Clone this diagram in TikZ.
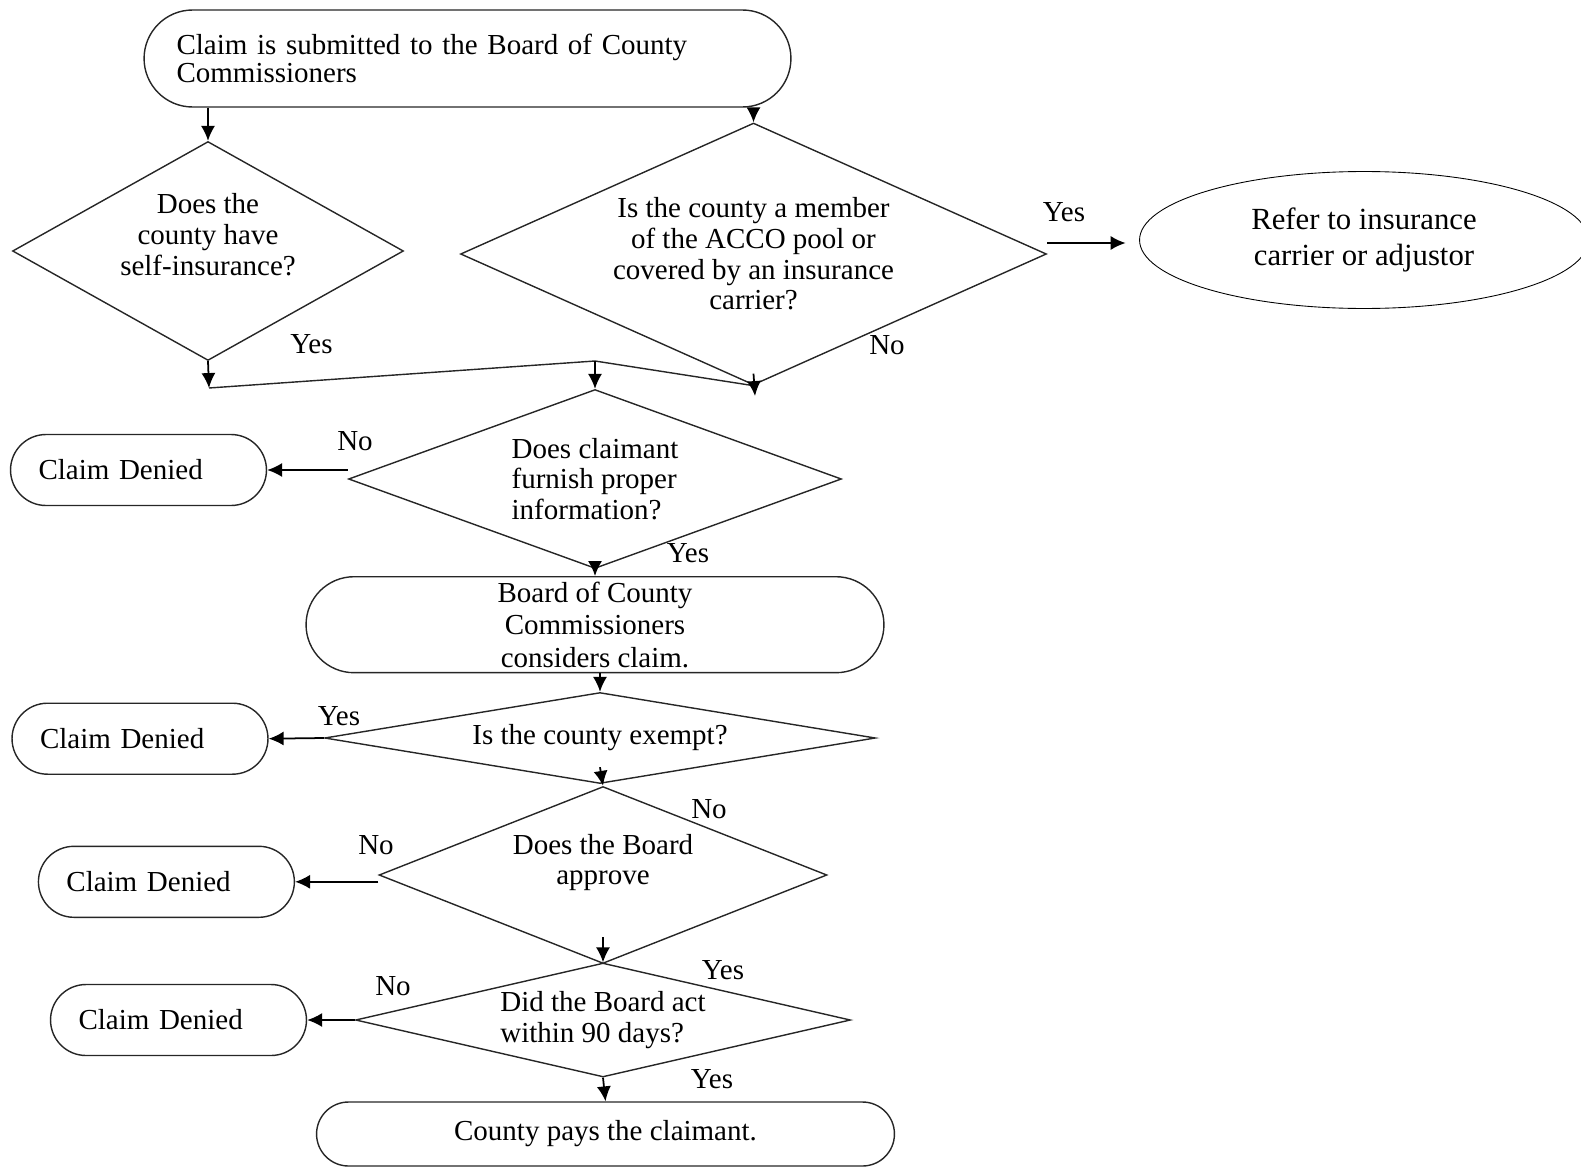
\documentclass[tikz,border=0pt]{standalone}
\usepackage{fontspec}
\setmainfont{Liberation Serif}
\usepackage{tikz}
\usetikzlibrary{shapes.geometric, arrows.meta}
\tikzstyle{startstop} = [rectangle, rounded corners=0.96cm, minimum width=11.56cm, minimum height=1.92cm, align=center, draw=black!85, line width=0.8pt]
\tikzstyle{denied} = [rectangle, rounded corners=0.71cm, minimum width=5.12cm, minimum height=1.42cm, text width=4cm, align=left, draw=black!85, line width=0.8pt]
\tikzstyle{decision} = [diamond, inner sep=0pt, align=center, draw=black!85, line width=0.8pt]
\tikzstyle{arrow} = [line width=1pt, ->, >={Latex[length=8.5pt,width=8pt]}]
\tikzstyle{answer} = [inner sep=0pt]

\begin{document}
\begin{tikzpicture}[x=0.02cm, y=-0.02cm, font=\fontsize{16.5}{17.5}\selectfont]
\useasboundingbox (0,0) rectangle (1581,1166);

\node (submit) [startstop, minimum width=12.94cm, minimum height=1.94cm, rounded corners=0.97cm, text width=11.64cm, align=left, font=\fontsize{16.5}{13.7}\selectfont] at (467.5,58.5) {Claim is submitted to the Board of County\\Commissioners};
\node (selfins) [decision, minimum width=7.82cm, minimum height=4.38cm, shape aspect=1.79, text depth=0.66cm] at (208,251) {Does the\\county have\\self-insurance?};
\node (acco) [decision, minimum width=11.72cm, minimum height=5.24cm, shape aspect=2.24] at (753.5,254) {Is the county a member\\of the ACCO pool or\\covered by an insurance\\carrier?};
\node (refer) [ellipse, draw=black, line width=0.5pt, minimum width=8.98cm, minimum height=2.74cm, align=center, font=\fontsize{17.5}{20}\selectfont] at (1364,240) {Refer to insurance\\carrier or adjustor};
\node (info) [decision, minimum width=9.86cm, minimum height=3.58cm, shape aspect=2.75, align=left] at (595,479) {Does claimant\\furnish proper\\information?};
\node (denied1) [denied] at (138.5,470) {Claim Denied};
\node (board) [startstop, inner ysep=0pt, font=\fontsize{16.5}{18.4}\selectfont] at (595,624.7) {Board of County\\Commissioners\\considers claim.};
\node (exempt) [decision, minimum width=11.02cm, minimum height=1.82cm, shape aspect=6.05] at (600,738) {Is the county exempt?};
\node (denied2) [denied] at (140,738.7) {Claim Denied};
\node (approve) [decision, minimum width=8.96cm, minimum height=3.54cm, shape aspect=2.53, text depth=0.62cm] at (603,875) {Does the Board\\approve};
\node (denied3) [denied] at (166.4,881.8) {Claim Denied};
\node (days) [decision, minimum width=9.9cm, minimum height=2.28cm, shape aspect=4.34, align=left] at (603,1020) {Did the Board act\\within 90 days?};
\node (denied4) [denied] at (178.5,1020) {Claim Denied};
\node (pays) [startstop, minimum height=1.28cm, rounded corners=0.64cm] at (605.5,1134) {County pays the claimant.};

\node (yesins) [answer] at (1064,212) {Yes};
\node (yesself) [answer] at (311.5,344) {Yes};
\node (noacco) [answer] at (887,345) {No};
\node (noinfo) [answer] at (355,441) {No};
\node (yesinfo) [answer] at (688,553) {Yes};
\node (yesexempt) [answer] at (339,716) {Yes};
\node (noexempt) [answer] at (709,809) {No};
\node (noapprove) [answer] at (376,845) {No};
\node (yesapprove) [answer] at (723,970) {Yes};
\node (nodays) [answer] at (393,986) {No};
\node (yesdays) [answer] at (712,1079) {Yes};

\coordinate (join1) at (209,388);
\coordinate (join2) at (595,361);
\coordinate (join3) at (755,396);

\draw [arrow] (submit.south -| selfins.north) -- (selfins.north);
\draw [arrow] (submit.south -| acco.north) -- (acco.north);
\draw [arrow] ([yshift=0.22cm]acco.east) -- ([yshift=0.22cm]acco.east -| refer.west) [shorten >=0.27cm];
\draw [arrow] (selfins.south) -- (join1);
\draw [line width=0.8pt, black!85] (join1) -- (join2) -- (acco.south);
\draw [arrow] ([yshift=0.24cm]acco.south) -- (join3);
\draw [arrow] (join2) -- (info.north);
\draw [arrow] (info.west |- denied1.east) -- (denied1.east);
\draw [arrow] ([yshift=0.16cm]info.south) -- (board.north);
\draw [arrow] (board.south -| exempt.north) -- (exempt.north);
\draw [arrow] (exempt.west) -- (denied2.east);
\draw [arrow] ([yshift=0.34cm]exempt.south) -- (approve.north);
\draw [arrow] (approve.west |- denied3.east) -- (denied3.east);
\draw [arrow] ([yshift=0.54cm]approve.south) -- (days.north);
\draw [arrow] (days.west) -- (denied4.east);
\draw [arrow] (days.south) -- (pays.north);

\end{tikzpicture}
\end{document}
